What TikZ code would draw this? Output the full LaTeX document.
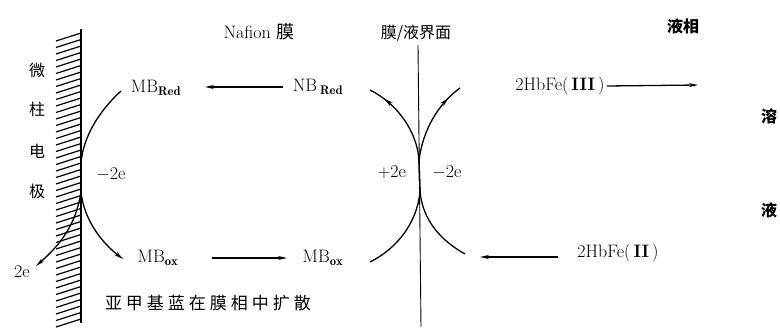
\documentclass[tikz,border=0pt]{standalone}
\usepackage{fontspec}
\newfontfamily\cjk{Noto Sans CJK SC}
\usetikzlibrary{arrows.meta,decorations.markings}
\begin{document}
\begin{tikzpicture}[x=1pt,y=-1pt,
  txt/.style={inner sep=0pt,font=\fontsize{18}{20}\selectfont},
  cjktxt/.style={inner sep=0pt,font=\cjk\fontsize{16}{18}\selectfont},
  cjkbold/.style={inner sep=0pt,font=\cjk\bfseries\fontsize{16}{18}\selectfont},
  flow/.style={line width=1.3pt},
  tip/.style={-{Stealth[length=9pt,width=4pt]}},
  midtip/.style={postaction={decorate},decoration={markings,mark=at position #1 with {\arrow{Stealth[length=9pt,width=4.5pt]}}}}]
\useasboundingbox (0,0) rectangle (780,329);
% electrode wall
\coordinate (wtop) at (81,29);
\coordinate (wbot) at (81,323);
\draw[line width=1.3pt] (wtop) -- (wbot);
\foreach \y in {33,39.5,...,320}{
  \draw[line width=1.2pt] (56,\y+8) -- (81,\y);
}
% vertical labels
\node[cjktxt] (w1) at (37,70) {微};
\node[cjktxt] (w2) at (37,109) {柱};
\node[cjktxt] (w3) at (37,151) {电};
\node[cjktxt] (w4) at (37,191) {极};
% titles
\node[txt] (naf) at (259,32) {Nafion {\cjk 膜}};
\node[cjktxt] (itf) at (416,33) {膜/液界面};
\node[cjkbold] (liq) at (683,26) {液相};
\node[cjkbold] (s1) at (769,116) {溶};
\node[cjkbold] (s2) at (769,210) {液};
% species
\node[txt] (mbred) at (156,88) {MB$_{\mathbf{Red}}$};
\node[txt] (nbred) at (318,87) {NB$\,_{\mathbf{Red}}$};
\node[txt] (mbox1) at (158,258) {MB$_{\mathbf{ox}}$};
\node[txt] (mbox2) at (323,258) {MB$_{\mathbf{ox}}$};
\node[txt] (hb3) at (560,86) {2HbFe(\,\textbf{III}\,)};
\node[txt] (hb2) at (618,253) {2HbFe(\,\textbf{II}\,)};
\node[txt] (m2e) at (111,174) {$-$2e};
\node[txt] (p2e) at (392,172) {$+$2e};
\node[txt] (m2e2) at (447,172) {$-$2e};
\node[txt] (e2) at (22,272) {2e};
% horizontal arrows
\draw[flow,tip] (283,87) coordinate (a1) -- (205,87) coordinate (a1e);
\draw[flow,tip] (212,258) coordinate (a2) -- (287,258) coordinate (a2e);
\draw[flow,tip] (hb3.east) ++(2,0) coordinate (a3) -- (698,85) coordinate (a3e);
\draw[flow,tip] (558,257) coordinate (a4) -- (480,257) coordinate (a4e);
% electrode arc
\coordinate (c1) at (121,91);
\coordinate (c2) at (81,163);
\coordinate (c3) at (81,192);
\coordinate (c4) at (123,259);
\draw[flow,tip] (c1) .. controls (98,112) and (83,138) .. (c2) -- (c3) .. controls (84,220) and (102,243) .. (c4);
% 2e arrow
\coordinate (c5) at (36,266);
\draw[flow,tip] (c3) .. controls (76,225) and (60,245) .. (c5);
% interface line
\coordinate (itop) at (418,45);
\coordinate (ibot) at (421,327);
\draw[line width=0.9pt] (itop) -- (ibot);
% interface arcs
\coordinate (l1) at (370,262);
\coordinate (l2) at (420,192);
\coordinate (l3) at (419,160);
\coordinate (l4) at (370,90);
\draw[flow,midtip=0.92] (l1) .. controls (398,248) and (417,222) .. (l2) -- (l3) .. controls (417,132) and (398,104) .. (l4);
\coordinate (r1) at (465,254);
\coordinate (r4) at (460,88);
\draw[flow,midtip=0.92] (r1) .. controls (440,240) and (423,220) .. (l2) -- (l3) .. controls (423,130) and (438,104) .. (r4);
% bottom caption
\node[inner sep=0pt,font=\cjk\fontsize{17}{19}\selectfont] (cap) at (208,303) {亚\hspace{4pt}甲\hspace{4pt}基\hspace{4pt}蓝\hspace{4pt}在\hspace{4pt}膜\hspace{4pt}相\hspace{4pt}中\hspace{4pt}扩\hspace{4pt}散};
\end{tikzpicture}
\end{document}
